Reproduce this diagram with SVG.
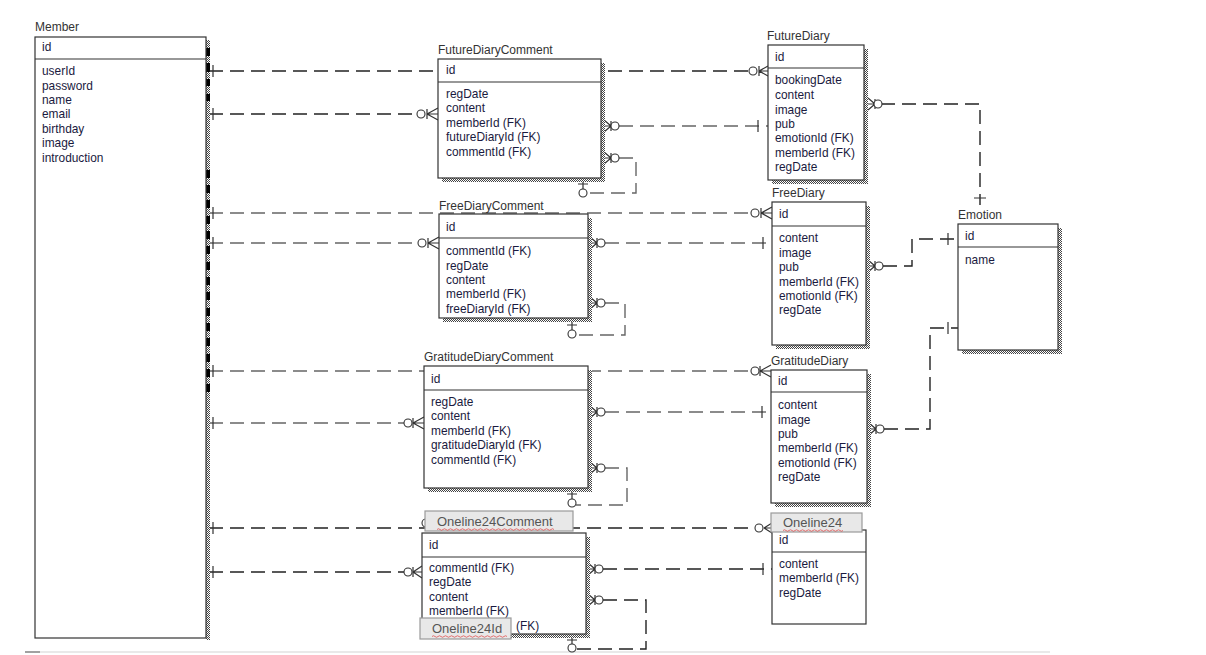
<svg xmlns="http://www.w3.org/2000/svg" width="1206" height="655" viewBox="0 0 1206 655">
<style>
.box{fill:#fff;stroke:#333;stroke-width:1.2}
.div{stroke:#333;stroke-width:1.2}
.t{font-family:"Liberation Sans",Arial,sans-serif;font-size:11.9px;fill:#1a1a40}
.ti{font-family:"Liberation Sans",Arial,sans-serif;font-size:12px;fill:#333}
.lbl{fill:#e8e8e8;stroke:#9a9a9a;stroke-width:1.2}
.lt{font-family:"Liberation Sans",Arial,sans-serif;font-size:13px;fill:#555}
.dk{fill:none;stroke:#222;stroke-width:1.4;stroke-dasharray:14 7}
.gr{fill:none;stroke:#666;stroke-width:1.4;stroke-dasharray:14 7}
.sym{fill:none;stroke:#333;stroke-width:1.2}
.cir{fill:#fff;stroke:#333;stroke-width:1.1}
.sq{fill:none;stroke:#e05050;stroke-width:0.8}
</style>
<defs>
<pattern id="chk" width="2" height="2" patternUnits="userSpaceOnUse">
<rect width="2" height="2" fill="#fff"/>
<rect width="1" height="1" fill="#444"/>
<rect x="1" y="1" width="1" height="1" fill="#444"/>
</pattern>
</defs>
<rect width="1206" height="655" fill="#fff"/>
<line x1="25" y1="652" x2="1050" y2="652" stroke="#e2e2e2" stroke-width="1.5"/>
<line x1="25" y1="652" x2="40" y2="652" stroke="#888" stroke-width="1.5"/>

<g id="connectors">
<!-- Member -> FutureDiary -->
<path class="dk" d="M209 71H749"/>
<path class="sym" d="M213 65V77M759 71L768 66M759 71H768M759 71L768 76M759 66V76"/>
<circle class="cir" cx="753" cy="71" r="4"/>
<!-- Member -> FutureDiaryComment -->
<path class="dk" d="M209 114H417"/>
<path class="sym" d="M213 108V120M427 114L438 108M427 114H438M427 114L438 120M427 109V119"/>
<circle class="cir" cx="421" cy="114" r="4"/>
<!-- FutureDiaryComment -> FutureDiary -->
<path class="gr" d="M619 126H768"/>
<path class="sym" d="M758 120V132M604 120L611 126M604 126H611M604 132L611 126M611 121V131"/>
<circle class="cir" cx="615" cy="126" r="4"/>
<!-- FutureDiaryComment self -->
<path class="gr" d="M619 158H636V193H587"/>
<path class="sym" d="M604 152L611 158M604 158H611M604 164L611 158M611 153V163M583 181V189M578 184H588"/>
<circle class="cir" cx="615" cy="158" r="4"/>
<circle class="cir" cx="583" cy="193" r="4"/>
<!-- FutureDiary -> Emotion -->
<path class="dk" d="M881 104H980V205"/>
<path class="sym" d="M868 98L875 104M868 104H875M868 110L875 104M875 99V109M974 198H986"/>
<circle class="cir" cx="878" cy="104" r="4"/>
<!-- Member -> FreeDiary -->
<path class="gr" d="M209 213H751"/>
<path class="sym" d="M213 207V219M761 213L772 207M761 213H772M761 213L772 219M761 208V218"/>
<circle class="cir" cx="755" cy="213" r="4"/>
<!-- Member -> FreeDiaryComment -->
<path class="gr" d="M209 243H418"/>
<path class="sym" d="M213 237V249M428 243L439 237M428 243H439M428 243L439 249M428 238V248"/>
<circle class="cir" cx="422" cy="243" r="4"/>
<!-- FreeDiaryComment -> FreeDiary -->
<path class="gr" d="M605 243H772"/>
<path class="sym" d="M763 237V249M590 237L597 243M590 243H597M590 249L597 243M597 238V248"/>
<circle class="cir" cx="601" cy="243" r="4"/>
<!-- FreeDiaryComment self -->
<path class="gr" d="M605 303H625V335H576"/>
<path class="sym" d="M590 297L597 303M590 303H597M590 309L597 303M597 298V308M572 321V330M567 325H577"/>
<circle class="cir" cx="601" cy="303" r="4"/>
<circle class="cir" cx="572" cy="334" r="4"/>
<!-- FreeDiary -> Emotion -->
<path class="dk" d="M883 266H912V239H958"/>
<path class="sym" d="M868 260L875 266M868 266H875M868 272L875 266M875 261V271M948 233V245"/>
<circle class="cir" cx="879" cy="266" r="4"/>
<!-- GratitudeDiary -> Emotion -->
<path class="dk" d="M884 429H930V328H958"/>
<path class="sym" d="M869 423L876 429M869 429H876M869 435L876 429M876 424V434M948 322V334"/>
<circle class="cir" cx="880" cy="429" r="4"/>
<!-- Member -> GratitudeDiary -->
<path class="gr" d="M209 371H751"/>
<path class="sym" d="M213 365V377M760 371L771 365M760 371H771M760 371L771 377M760 366V376"/>
<circle class="cir" cx="755" cy="371" r="4"/>
<!-- Member -> GratitudeDiaryComment -->
<path class="gr" d="M209 423H404"/>
<path class="sym" d="M213 417V429M413 423L424 417M413 423H424M413 423L424 429M413 418V428"/>
<circle class="cir" cx="408" cy="423" r="4"/>
<!-- GratitudeDiaryComment -> GratitudeDiary -->
<path class="gr" d="M605 412H771"/>
<path class="sym" d="M762 406V418M590 406L597 412M590 412H597M590 418L597 412M597 407V417"/>
<circle class="cir" cx="601" cy="412" r="4"/>
<!-- GratitudeDiaryComment self -->
<path class="gr" d="M605 468H627V505H576"/>
<path class="sym" d="M590 462L597 468M590 468H597M590 474L597 468M597 463V473M572 490V499M567 494H577"/>
<circle class="cir" cx="601" cy="468" r="4"/>
<circle class="cir" cx="572" cy="503" r="4"/>
<!-- Member -> Oneline24 -->
<path class="dk" d="M209 528H754"/>
<path class="sym" d="M213 522V534M764 528L772 523M764 528H772M764 528L772 533"/>
<circle class="cir" cx="759" cy="528" r="4"/>
<circle class="cir" cx="426" cy="523" r="4"/>
<!-- Member -> Oneline24Comment -->
<path class="dk" d="M209 572H404"/>
<path class="sym" d="M213 566V578M413 572L422 566M413 572H422M413 572L422 578M413 567V577"/>
<circle class="cir" cx="408" cy="572" r="4"/>
<!-- Oneline24Comment -> Oneline24 -->
<path class="dk" d="M603 569H772"/>
<path class="sym" d="M763 563V575M588 563L595 569M588 569H595M588 575L595 569M595 564V574"/>
<circle class="cir" cx="599" cy="569" r="4"/>
<!-- Oneline24Comment self -->
<path class="dk" d="M603 600H646V649H576"/>
<path class="sym" d="M588 594L595 600M588 600H595M588 606L595 600M595 595V605M572 636V644M567 640H577"/>
<circle class="cir" cx="599" cy="600" r="4"/>
<circle class="cir" cx="572" cy="648" r="4"/>
</g>

<g id="Member">
<text class="ti" x="35" y="31">Member</text>
<rect x="206" y="40" width="4" height="600" fill="url(#chk)"/>
<path d="M208 48V56M208 63V72M208 79V86M208 94V101M208 170V178M208 185V193M208 200V208M208 216V224M208 231V239M208 246V254M208 262V270M208 277V285M208 292V300M208 308V316M208 323V331M208 338V346M208 354V362M208 369V377M208 384V392" stroke="#000" stroke-width="4"/>
<rect class="box" x="35" y="37" width="171" height="601"/>
<line class="div" x1="35" y1="59" x2="206" y2="59"/>
<text class="t" x="42" y="51">id</text>
<text class="t" x="42" y="75">userId</text>
<text class="t" x="42" y="90">password</text>
<text class="t" x="42" y="104">name</text>
<text class="t" x="42" y="118">email</text>
<text class="t" x="42" y="133">birthday</text>
<text class="t" x="42" y="147">image</text>
<text class="t" x="42" y="162">introduction</text>
</g>

<g id="FutureDiaryComment">
<text class="ti" x="438" y="54">FutureDiaryComment</text>
<rect x="442" y="63" width="163" height="119" fill="url(#chk)"/>
<rect class="box" x="438" y="59" width="163" height="119"/>
<line class="div" x1="438" y1="82" x2="601" y2="82"/>
<text class="t" x="446" y="74">id</text>
<text class="t" x="446" y="98">regDate</text>
<text class="t" x="446" y="112">content</text>
<text class="t" x="446" y="127">memberId (FK)</text>
<text class="t" x="446" y="141">futureDiaryId (FK)</text>
<text class="t" x="446" y="156">commentId (FK)</text>
</g>

<g id="FutureDiary">
<text class="ti" x="767" y="40">FutureDiary</text>
<rect x="772" y="49" width="96" height="135" fill="url(#chk)"/>
<rect class="box" x="768" y="45" width="96" height="135"/>
<line class="div" x1="768" y1="68" x2="864" y2="68"/>
<text class="t" x="775" y="61">id</text>
<text class="t" x="775" y="84">bookingDate</text>
<text class="t" x="775" y="99">content</text>
<text class="t" x="775" y="114">image</text>
<text class="t" x="775" y="128">pub</text>
<text class="t" x="775" y="142">emotionId (FK)</text>
<text class="t" x="775" y="157">memberId (FK)</text>
<text class="t" x="775" y="171">regDate</text>
</g>

<g id="FreeDiaryComment">
<text class="ti" x="439" y="210">FreeDiaryComment</text>
<rect x="443" y="218" width="149" height="104" fill="url(#chk)"/>
<rect class="box" x="439" y="214" width="149" height="104"/>
<line class="div" x1="439" y1="238" x2="588" y2="238"/>
<text class="t" x="446" y="231">id</text>
<text class="t" x="446" y="255">commentId (FK)</text>
<text class="t" x="446" y="270">regDate</text>
<text class="t" x="446" y="284">content</text>
<text class="t" x="446" y="298">memberId (FK)</text>
<text class="t" x="446" y="313">freeDiaryId (FK)</text>
</g>

<g id="FreeDiary">
<text class="ti" x="772" y="197">FreeDiary</text>
<rect x="776" y="206" width="94" height="143" fill="url(#chk)"/>
<rect class="box" x="772" y="202" width="94" height="143"/>
<line class="div" x1="772" y1="226" x2="866" y2="226"/>
<text class="t" x="779" y="218">id</text>
<text class="t" x="779" y="242">content</text>
<text class="t" x="779" y="257">image</text>
<text class="t" x="779" y="271">pub</text>
<text class="t" x="779" y="286">memberId (FK)</text>
<text class="t" x="779" y="300">emotionId (FK)</text>
<text class="t" x="779" y="314">regDate</text>
</g>

<g id="Emotion">
<text class="ti" x="958" y="219">Emotion</text>
<rect x="962" y="228" width="100" height="126" fill="url(#chk)"/>
<rect class="box" x="958" y="224" width="100" height="126"/>
<line class="div" x1="958" y1="247" x2="1058" y2="247"/>
<text class="t" x="965" y="240">id</text>
<text class="t" x="965" y="264">name</text>
</g>

<g id="GratitudeDiaryComment">
<text class="ti" x="424" y="361">GratitudeDiaryComment</text>
<rect x="428" y="370" width="164" height="122" fill="url(#chk)"/>
<rect class="box" x="424" y="366" width="164" height="122"/>
<line class="div" x1="424" y1="390" x2="588" y2="390"/>
<text class="t" x="431" y="383">id</text>
<text class="t" x="431" y="406">regDate</text>
<text class="t" x="431" y="420">content</text>
<text class="t" x="431" y="435">memberId (FK)</text>
<text class="t" x="431" y="449">gratitudeDiaryId (FK)</text>
<text class="t" x="431" y="464">commentId (FK)</text>
</g>

<g id="GratitudeDiary">
<text class="ti" x="771" y="365">GratitudeDiary</text>
<rect x="775" y="374" width="96" height="133" fill="url(#chk)"/>
<rect class="box" x="771" y="370" width="96" height="133"/>
<line class="div" x1="771" y1="392" x2="867" y2="392"/>
<text class="t" x="778" y="385">id</text>
<text class="t" x="778" y="409">content</text>
<text class="t" x="778" y="424">image</text>
<text class="t" x="778" y="438">pub</text>
<text class="t" x="778" y="452">memberId (FK)</text>
<text class="t" x="778" y="467">emotionId (FK)</text>
<text class="t" x="778" y="481">regDate</text>
</g>

<g id="Oneline24Comment">
<rect x="426" y="537" width="164" height="101" fill="url(#chk)"/>
<rect class="box" x="422" y="533" width="164" height="101"/>
<line class="div" x1="422" y1="557" x2="586" y2="557"/>
<text class="t" x="429" y="549">id</text>
<text class="t" x="429" y="572">commentId (FK)</text>
<text class="t" x="429" y="586">regDate</text>
<text class="t" x="429" y="601">content</text>
<text class="t" x="429" y="615">memberId (FK)</text>
<text class="t" x="516" y="630">(FK)</text>
<rect class="lbl" x="425" y="511" width="148" height="20"/>
<text class="lt" x="437" y="526">Oneline24Comment</text>
<path class="sq" d="M437 529.5q1.5 -1.5 3 0t3 0t3 0t3 0t3 0t3 0t3 0t3 0t3 0t3 0t3 0t3 0t3 0t3 0t3 0t3 0t3 0t3 0t3 0t3 0t3 0t3 0t3 0t3 0t3 0t3 0t3 0t3 0t3 0t3 0t3 0t3 0t3 0t3 0t3 0t3 0t3 0t3 0t3 0"/>
<rect class="lbl" x="420" y="618" width="91" height="21"/>
<text class="lt" x="432" y="633">Oneline24Id</text>
<path class="sq" d="M432 636.5q1.5 -1.5 3 0t3 0t3 0t3 0t3 0t3 0t3 0t3 0t3 0t3 0t3 0t3 0t3 0t3 0t3 0t3 0t3 0t3 0t3 0t3 0t3 0t3 0t3 0t3 0t3 0"/>
</g>

<g id="Oneline24">
<rect class="box" x="772" y="530" width="94" height="94"/>
<line class="div" x1="772" y1="552" x2="866" y2="552"/>
<text class="t" x="779" y="544">id</text>
<text class="t" x="779" y="568">content</text>
<text class="t" x="779" y="582">memberId (FK)</text>
<text class="t" x="779" y="597">regDate</text>
<rect class="lbl" x="771" y="513" width="91" height="19"/>
<text class="lt" x="783" y="527">Oneline24</text>
<path class="sq" d="M783 530.5q1.5 -1.5 3 0t3 0t3 0t3 0t3 0t3 0t3 0t3 0t3 0t3 0t3 0t3 0t3 0t3 0t3 0t3 0t3 0t3 0t3 0t3 0"/>
</g>
</svg>
